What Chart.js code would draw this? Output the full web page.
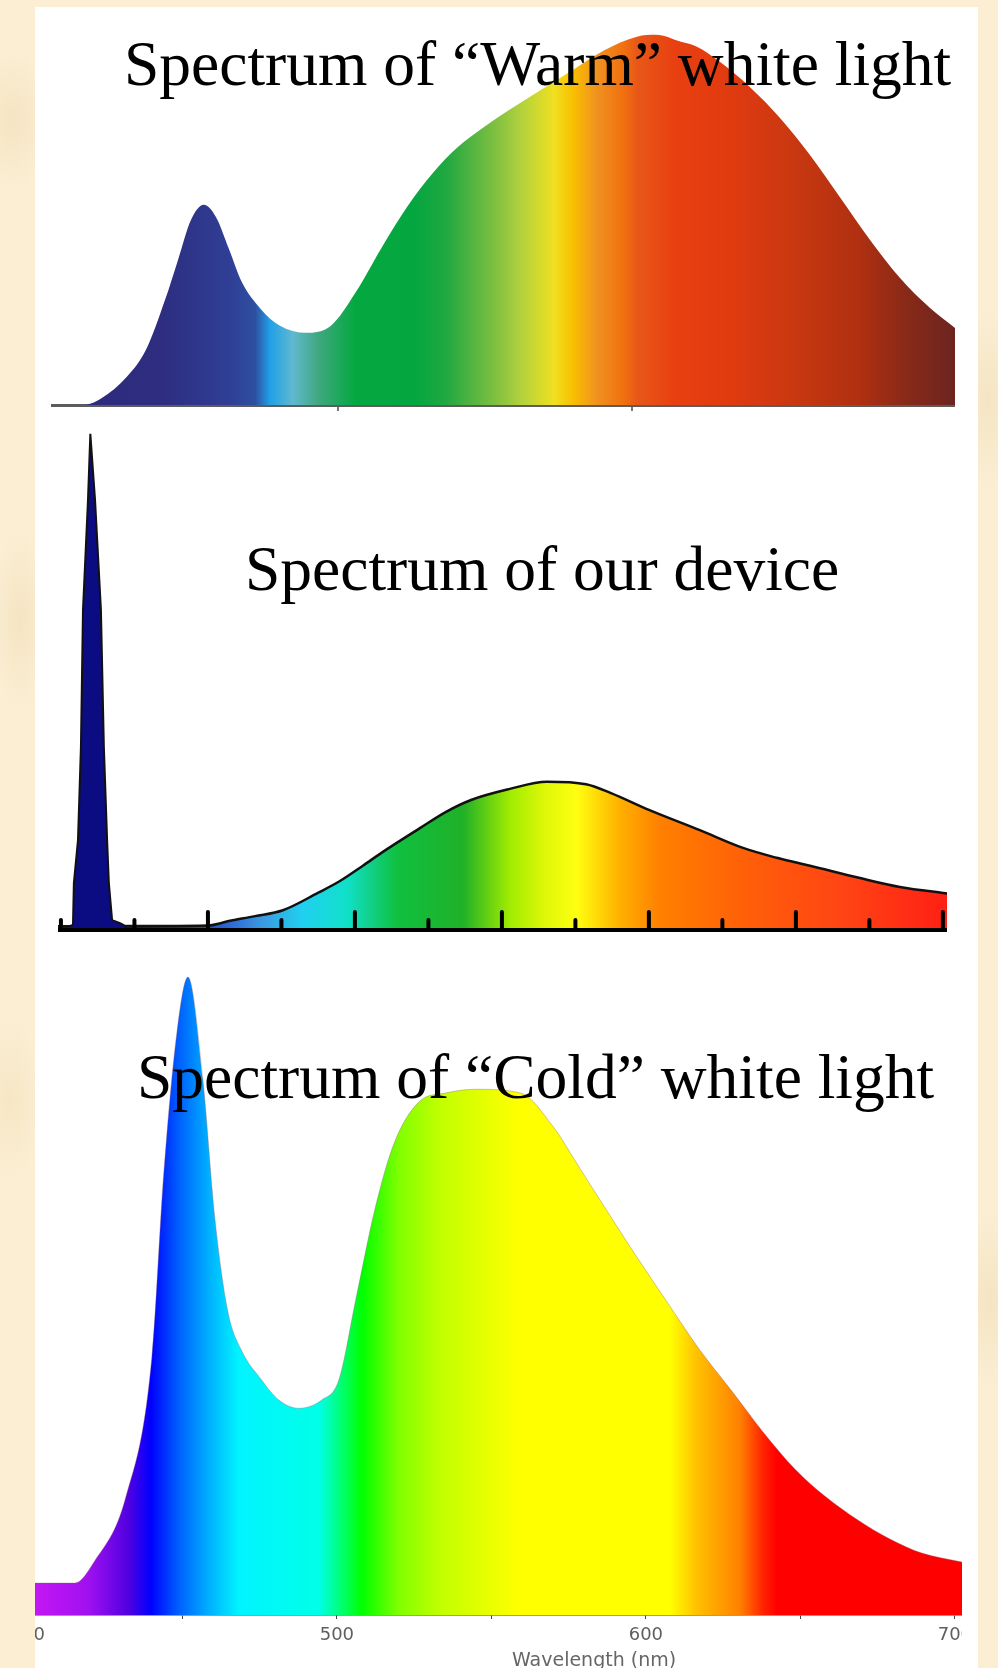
<!DOCTYPE html>
<html>
<head>
<meta charset="utf-8">
<script src="https://cdn.jsdelivr.net/npm/chart.js@4.4.1/dist/chart.umd.min.js"></script>
<style>
html, body { margin: 0; padding: 0; }
body { width: 998px; height: 1668px; position: relative; overflow: hidden;
  background-color: #fbeed3;
  background-image:
    radial-gradient(ellipse 40px 70px at 12px 120px, rgba(240,220,180,0.55), rgba(240,220,180,0) 100%),
    radial-gradient(ellipse 30px 90px at 20px 620px, rgba(238,218,178,0.5), rgba(238,218,178,0) 100%),
    radial-gradient(ellipse 35px 80px at 10px 1100px, rgba(240,222,182,0.5), rgba(240,222,182,0) 100%),
    radial-gradient(ellipse 30px 90px at 988px 400px, rgba(238,218,178,0.5), rgba(238,218,178,0) 100%),
    radial-gradient(ellipse 30px 90px at 990px 1300px, rgba(238,218,178,0.5), rgba(238,218,178,0) 100%); }
#panel { position: absolute; left: 35px; top: 7px; width: 943px; height: 1661px; background: #ffffff; }
.box { position: absolute; }
.title { position: absolute; font-family: "Liberation Serif", "Times New Roman", serif; font-size: 63.5px;
  line-height: 63.5px; color: #000; white-space: nowrap; z-index: 5; }
#xlab { position: absolute; font-family: "DejaVu Sans", sans-serif; font-size: 19px; line-height: 19px;
  color: #666; white-space: nowrap; z-index: 5; }
</style>
</head>
<body>
<div id="panel"></div>

<div class="box" style="left:51px; top:13px; width:904px; height:407px;"><canvas id="cWarm"></canvas></div>
<div class="box" style="left:58px; top:420px; width:889px; height:520px;"><canvas id="cDevice"></canvas></div>
<div class="box" style="left:35px; top:940px; width:927px; height:728px;"><canvas id="cCold"></canvas></div>

<div class="title" style="left:124px; top:32px;">Spectrum of “Warm” white light</div>
<div class="title" style="left:245px; top:537px;">Spectrum of our device</div>
<div class="title" style="left:137px; top:1045px;">Spectrum of “Cold” white light</div>
<div id="xlab" style="left:512px; top:1650px;">Wavelength (nm)</div>

<script>
// ---------------- DATA ----------------
// "Warm" white light spectrum (wavelength nm, relative intensity)
const warmNm = [402.4, 413.3, 419.7, 428.2, 434.7, 441.2, 445.6, 450.0, 454.4, 458.5, 462.9, 467.3,
  473.8, 480.3, 489.1, 497.6, 506.1, 515.0, 523.5, 532.3, 540.8, 549.7, 558.2, 569.0, 579.9, 590.8,
  601.7, 608.2, 616.7, 622.1, 629.9, 640.1, 650.3, 660.5, 670.7, 681.0, 691.2, 701.4, 709.9];
const warmIntensity = [0, 0, 1.9, 7.6, 14.9, 28.4, 39.2, 50.0, 54.1, 50.8, 42.2, 33.2,
  25.9, 21.4, 19.5, 21.4, 30.5, 42.7, 53.5, 62.7, 69.7, 75.1, 79.7, 85.1, 90.5, 95.9,
  99.5, 100, 98.1, 96.8, 92.7, 85.9, 77.6, 67.6, 56.2, 44.6, 34.3, 26.2, 20.8];
const warmTicks = [500, 600];

// Device spectrum: narrow emission line and broad band
const deviceLineNm = [349.0, 353.0, 354.1, 354.4, 355.8, 356.8, 357.5, 359.2, 360.0, 361.6, 363.6,
  364.6, 365.7, 366.3, 367.4, 370.1, 372.0];
const deviceLineIntensity = [0.4, 0.4, 0.6, 9.1, 17.8, 36.6, 64.4, 86.6, 100, 86.6, 64.4,
  36.6, 17.8, 9.1, 1.6, 1.0, 0.4];
const deviceBandNm = [372.0, 385.0, 400.0, 407.1, 416.0, 425.5, 437.4, 444.9, 452.7, 459.5, 472.1,
  481.0, 489.5, 502.4, 515.3, 528.6, 537.1, 550.0, 567.3, 582.0, 593.5, 604.8, 621.8, 635.4, 650.0, 651.4];
const deviceBandIntensity = [0.4, 0.4, 0.5, 1.4, 2.4, 3.6, 7.1, 9.5, 12.6, 15.4, 20.2,
  23.5, 25.9, 28.1, 29.6, 29.1, 27.3, 23.9, 19.8, 16.2, 14.2, 12.6, 10.1, 8.3, 7.1, 7.0];
const deviceMajorTicks = [400, 450, 500, 550, 600, 650];
const deviceMinorTicks = [350, 375, 425, 475, 525, 575, 625];

// "Cold" white light spectrum
const coldNm = [401.9, 415.2, 421.4, 431.7, 440.1, 444.0, 448.2, 451.8, 456.6, 460.5, 464.7, 468.9,
  475.7, 481.2, 487.7, 495.1, 500.6, 506.1, 512.3, 518.4, 526.5, 535.0, 545.0, 559.5, 569.9, 578.0,
  586.4, 596.8, 606.8, 617.2, 627.5, 637.9, 648.2, 658.3, 668.6, 679.0, 689.3, 702.3];
const coldIntensity = [5.0, 5.0, 8.3, 18.5, 40.3, 69.4, 91.2, 100, 84.0, 62.2, 47.6, 41.7,
  36.8, 33.7, 32.4, 33.7, 36.8, 49.4, 63.6, 73.8, 80.4, 81.8, 82.4, 81.8, 76.6, 70.5,
  64.1, 56.3, 49.1, 41.7, 35.3, 28.7, 22.9, 18.5, 14.9, 11.9, 9.7, 8.3];
const coldTicks = [400, 450, 500, 550, 600, 650, 700];

// ---------------- STYLE (colour stops along wavelength) ----------------
const warmStopNm = [402, 439.5, 463.3, 471.8, 476.9, 484.7, 493.2, 506.1, 525.9, 536.7, 553.7, 562.6,
  573.5, 579.9, 588.4, 597.3, 601.7, 614.6, 634.0, 655.8, 677.2, 692.5, 710];
const warmStopColor = ['#2d2a7b', '#2e2d80', '#2f3f95', '#2e4fa0', '#20a0e8', '#60b8d0', '#40a880', '#04a840',
  '#04a640', '#20a840', '#80c040', '#b4d23c', '#f0e020', '#f8c000', '#f09020', '#f07010', '#e85818',
  '#e84010', '#e03a10', '#c83810', '#b03010', '#8a2a18', '#6c2420'];

const deviceStopNm = [349, 372, 400, 409.2, 418.7, 432.3, 447.3, 464.3, 486.7, 502.7, 515, 525.5, 540.1,
  553.7, 582, 616, 651.4];
const deviceStopColor = ['#0b0b82', '#0b0b82', '#2050c8', '#3070d8', '#3a9be0', '#20d0f0', '#10e0c8',
  '#10c040', '#20b028', '#a0ec00', '#e0f808', '#ffff10', '#ffb000', '#ff8000', '#ff6008', '#ff4414', '#ff2014'];

const coldStopNm = [401.9, 419.7, 432.7, 439.8, 448.9, 458.6, 468.3, 494.2, 500.6, 508.1, 520.1, 533.0,
  552.4, 558.9, 607.8, 616.5, 630.4, 638.2, 642.4, 702.3];
const coldStopColor = ['#c416f4', '#a010f0', '#5000e0', '#0000ff', '#0060ff', '#00b0ff', '#00f4ff', '#00ffe8',
  '#00ff80', '#00ff00', '#80ff00', '#c0ff00', '#f0ff00', '#ffff00', '#ffff00', '#ffc000', '#ff8000',
  '#ff2000', '#ff0000', '#ff0000'];

// ---------------- HELPERS ----------------
function toPoints(xs, ys) { return xs.map((x, i) => ({ x: x, y: ys[i] })); }

function spectrumFill(stopNm, stopColor) {
  return (c) => {
    const chart = c.chart;
    const area = chart.chartArea;
    if (!area) return stopColor[0];
    const xs = chart.scales.x;
    const g = chart.ctx.createLinearGradient(area.left, 0, area.right, 0);
    const w = area.right - area.left;
    stopNm.forEach((nm, i) => {
      const p = (xs.getPixelForValue(nm) - area.left) / w;
      g.addColorStop(Math.min(1, Math.max(0, p)), stopColor[i]);
    });
    return g;
  };
}

const common = {
  responsive: true,
  maintainAspectRatio: false,
  animation: false,
  events: [],
  layout: { padding: 0 },
  plugins: { legend: { display: false }, tooltip: { enabled: false }, title: { display: false } },
  elements: { point: { radius: 0 } }
};

// ---------------- WARM ----------------
new Chart(document.getElementById('cWarm'), {
  type: 'line',
  data: { datasets: [{
    data: toPoints(warmNm, warmIntensity),
    fill: 'origin',
    backgroundColor: spectrumFill(warmStopNm, warmStopColor),
    borderWidth: 0,
    borderColor: 'rgba(0,0,0,0)',
    cubicInterpolationMode: 'monotone'
  }]},
  options: Object.assign({}, common, {
    scales: {
      x: { type: 'linear', min: 402.4, max: 709.9,
        afterBuildTicks: (s) => { s.ticks = warmTicks.map(v => ({ value: v })); },
        afterFit: (s) => { s.height = 15; s.paddingLeft = 0; s.paddingRight = 0; },
        ticks: { display: false },
        grid: { drawOnChartArea: false, drawTicks: true, tickLength: 6, color: '#777', lineWidth: 2 },
        border: { display: true, color: '#5c5c5c', width: 3 } },
      y: { display: false, min: 0, max: 105.9 }
    }
  })
});

// ---------------- DEVICE ----------------
const deviceTickPlugin = {
  id: 'deviceTicks',
  afterDraw(chart) {
    const xs = chart.scales.x;
    const ctx = chart.ctx;
    const base = chart.chartArea.bottom;
    ctx.save();
    ctx.strokeStyle = '#000';
    ctx.lineWidth = 4;
    ctx.lineCap = 'round';
    deviceMajorTicks.forEach(v => {
      const px = xs.getPixelForValue(v);
      ctx.beginPath(); ctx.moveTo(px, base); ctx.lineTo(px, base - 16); ctx.stroke();
    });
    deviceMinorTicks.forEach(v => {
      const px = xs.getPixelForValue(v);
      ctx.beginPath(); ctx.moveTo(px, base); ctx.lineTo(px, base - 8); ctx.stroke();
    });
    ctx.restore();
  }
};

const deviceFill = spectrumFill(deviceStopNm, deviceStopColor);
new Chart(document.getElementById('cDevice'), {
  type: 'line',
  data: { datasets: [{
    data: toPoints(deviceLineNm, deviceLineIntensity),
    fill: 'origin',
    backgroundColor: deviceFill,
    borderWidth: 2,
    borderColor: '#111',
    tension: 0
  }, {
    data: toPoints(deviceBandNm, deviceBandIntensity),
    fill: 'origin',
    backgroundColor: deviceFill,
    borderWidth: 2.5,
    borderColor: '#111',
    cubicInterpolationMode: 'monotone'
  }]},
  options: Object.assign({}, common, {
    scales: {
      x: { type: 'linear', min: 349.0, max: 651.4,
        afterFit: (s) => { s.height = 12; s.paddingLeft = 0; s.paddingRight = 0; },
        ticks: { display: false },
        grid: { display: false, drawOnChartArea: false, drawTicks: false },
        border: { display: true, color: '#000', width: 7 } },
      y: { display: false, min: 0, max: 102.8 }
    }
  }),
  plugins: [deviceTickPlugin]
});

// ---------------- COLD ----------------
new Chart(document.getElementById('cCold'), {
  type: 'line',
  data: { datasets: [{
    data: toPoints(coldNm, coldIntensity),
    fill: 'origin',
    backgroundColor: spectrumFill(coldStopNm, coldStopColor),
    borderWidth: 1,
    borderColor: 'rgba(140,90,110,0.35)',
    cubicInterpolationMode: 'monotone'
  }]},
  options: Object.assign({}, common, {
    scales: {
      x: { type: 'linear', min: 402.3, max: 702.3,
        afterBuildTicks: (s) => { s.ticks = coldTicks.map(v => ({ value: v })); },
        afterFit: (s) => { s.height = 53; s.paddingLeft = 0; s.paddingRight = 0; },
        ticks: { autoSkip: false, maxRotation: 0, padding: 6, color: '#5e5e5e',
          font: { family: 'DejaVu Sans', size: 18 },
          callback: (v) => (v % 100 === 0 ? String(v) : '') },
        grid: { drawOnChartArea: false, drawTicks: true, tickLength: 4, color: '#444', lineWidth: 1 },
        border: { display: true, color: '#3c3c30', width: 1.5 } },
      y: { display: false, min: 0, max: 105.8 }
    }
  })
});
</script>
</body>
</html>
